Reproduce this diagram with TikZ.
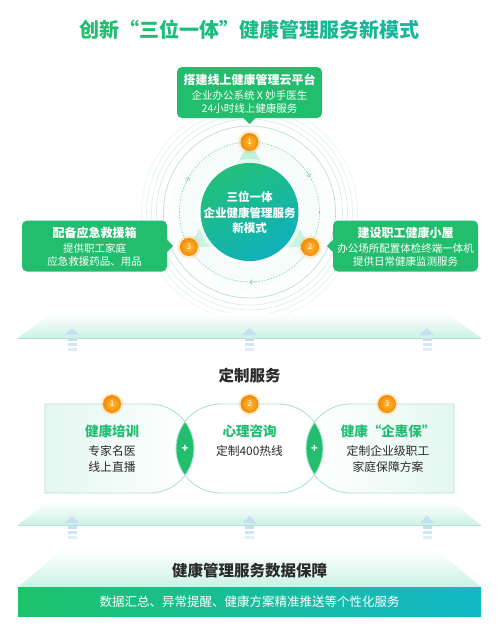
\documentclass[tikz,border=0pt]{standalone}
\usepackage{fontspec}
\setmainfont{Noto Sans CJK SC}
\usetikzlibrary{arrows.meta,calc}
\definecolor{gGreen}{HTML}{1FBF6B}
\definecolor{gTeal}{HTML}{12B4AA}
\definecolor{boxG}{HTML}{23BE6D}
\definecolor{ringC}{HTML}{A6DCD0}
\definecolor{dashC}{HTML}{86CDBD}
\definecolor{orA}{HTML}{FFBA35}
\definecolor{orB}{HTML}{F28A08}
\definecolor{darkT}{HTML}{2B2B2B}
\definecolor{arrB}{HTML}{C4E0F2}
\definecolor{mintA}{HTML}{CBF2E4}
\definecolor{mintB}{HTML}{F6FCFA}
\definecolor{triA}{HTML}{BDEFD8}
\definecolor{triB}{HTML}{CDF3E3}
\definecolor{cirA}{HTML}{22C07A}
\definecolor{cirB}{HTML}{0FB0BC}
\definecolor{bandA}{HTML}{1DC36B}
\definecolor{bandB}{HTML}{12B8C8}
\definecolor{svcLine}{HTML}{AFE1D6}
\definecolor{svcFill}{HTML}{E4F7F1}
\definecolor{svcTitle}{HTML}{20BD72}
\newcommand\tcol[2]{\textcolor{gGreen!#1!gTeal}{#2}}
\begin{document}
\begin{tikzpicture}[x=1pt,y=-1pt,
  callout/.style={fill=boxG,rounded corners=5pt,minimum width=145pt,minimum height=51pt,inner sep=0pt},
  wt/.style={text=white,inner sep=0pt,anchor=base},
  ctitle/.style={wt,font=\bfseries\fontsize{12}{12}\selectfont},
  cline/.style={wt,font=\fontsize{10.5}{10.5}\selectfont},
  numdot/.style={circle,minimum size=18pt,inner sep=0pt,inner color=orA,outer color=orB,text=white,font=\fontsize{8}{8}\selectfont},
  svctitle/.style={text=svcTitle,inner sep=0pt,anchor=base,font=\bfseries\fontsize{13.5}{13.5}\selectfont},
  svcline/.style={text=darkT,inner sep=0pt,anchor=base,font=\fontsize{11.8}{11.8}\selectfont},
  svcedge/.style={draw=svcLine,line width=0.9pt},
  head/.style={text=darkT,inner sep=0pt,anchor=base,font=\bfseries\fontsize{15.5}{15.5}\selectfont},
  chev/.style={dashC,line width=0.6pt,-{Straight Barb[length=2.5pt,width=5pt]}}
]
\useasboundingbox (0,0) rectangle (499,627);
\fill[white] (0,0) rectangle (499,627);

% title
\node[inner sep=0pt,anchor=base,font=\bfseries\fontsize{20}{20}\selectfont] (title) at (249.5,37)
 {\tcol{100}{创}\tcol{95}{新}\tcol{90}{“}\tcol{85}{三}\tcol{80}{位}\tcol{75}{一}\tcol{70}{体}\tcol{65}{”}\tcol{60}{健}\tcol{55}{康}\tcol{50}{管}\tcol{45}{理}\tcol{40}{服}\tcol{35}{务}\tcol{30}{新}\tcol{25}{模}\tcol{20}{式}};

% ring system
\coordinate (c) at (249.5,212);
\begin{scope}
\clip (0,0) rectangle (499,318);
\foreach \r/\o in {108/0.25,103/0.35,98/0.45,93/0.55}
  \draw[ringC,opacity=\o,line width=0.6pt] (c) circle (\r pt);
\shade[inner color=mintA!70,outer color=white] (c) circle (86pt);
\draw[ringC,opacity=0.75,line width=0.8pt] (c) circle (86pt);
\end{scope}
\fill[mintB] (c) circle (70pt);
\draw[dashC,line width=0.6pt,dash pattern=on 1.5pt off 1.5pt] (c) circle (70pt);

\coordinate (v1) at ($(c)+(90:70pt)$);
\coordinate (v2) at ($(c)+(-30:70pt)$);
\coordinate (v3) at ($(c)+(210:70pt)$);
\shade[top color=triA,bottom color=triB] (v1) -- (v2) -- (v3) -- cycle;

\draw[chev] ($(c)+(35:70pt)$) arc[start angle=35,end angle=30,radius=70pt];
\draw[chev] ($(c)+(155:70pt)$) arc[start angle=155,end angle=150,radius=70pt];
\draw[chev] ($(c)+(275:70pt)$) arc[start angle=275,end angle=270,radius=70pt];

\fill[white,opacity=0.55] (c) circle (53pt);
\shade[top color=cirA,bottom color=cirB,shading angle=30] (c) circle (49pt);
\node[wt,font=\bfseries\fontsize{11.5}{11.5}\selectfont] (ct1) at (249.5,201) {三位一体};
\node[wt,font=\bfseries\fontsize{11.5}{11.5}\selectfont] (ct2) at (249.5,217) {企业健康管理服务};
\node[wt,font=\bfseries\fontsize{11.5}{11.5}\selectfont] (ct3) at (249.5,232) {新模式};

\foreach \v/\n in {v1/1,v2/2,v3/3}{
  \fill[orA,opacity=0.25] (\v) circle (11.5pt);
  \node[numdot] (d\n) at (\v) {\n};
}

% top callout
\node[callout] (topbox) at (249.5,92.5) {};
\fill[boxG] ([xshift=-6pt]topbox.south) -- ([yshift=-6pt]topbox.south) -- ([xshift=6pt]topbox.south) -- cycle;
\node[ctitle] (tb1) at (249.5,84.5) {搭建线上健康管理云平台};
\node[cline] (tb2) at (249.5,99) {企业办公系统 X 妙手医生};
\node[cline] (tb3) at (249.5,112) {24小时线上健康服务};

% left callout
\node[callout] (lbox) at (94.5,246) {};
\fill[boxG] ([yshift=6pt]lbox.east) -- ([xshift=6pt]lbox.east) -- ([yshift=-6pt]lbox.east) -- cycle;
\node[ctitle] (lb1) at (94.5,237.5) {配备应急救援箱};
\node[cline] (lb2) at (94.5,252) {提供职工家庭};
\node[cline] (lb3) at (94.5,265) {应急救援药品、用品};

% right callout
\node[callout] (rbox) at (405.5,246) {};
\fill[boxG] ([yshift=6pt]rbox.west) -- ([xshift=-6pt]rbox.west) -- ([yshift=-6pt]rbox.west) -- cycle;
\node[ctitle] (rb1) at (405.5,237.5) {建设职工健康小屋};
\node[cline] (rb2) at (405.5,252) {办公场所配置体检终端一体机};
\node[cline] (rb3) at (405.5,265) {提供日常健康监测服务};

% plane 1
\shade[top color=white,bottom color=mintA] (52,313) -- (447,313) -- (481,338) -- (18,338) -- cycle;
\draw[svcLine,line width=0.7pt] (18,338) -- (481,338);
\foreach \x in {72,249.5,427}{
  \fill[arrB] (\x,328) -- (\x+7.5,335) -- (\x-7.5,335) -- cycle;
  \fill[arrB] (\x-4.5,338) rectangle (\x+4.5,340.5);
  \fill[arrB,opacity=0.8] (\x-4.5,343) rectangle (\x+4.5,345.5);
  \fill[arrB,opacity=0.55] (\x-4.5,348) rectangle (\x+4.5,350.5);
}

\node[head] (svchead) at (249.5,381) {定制服务};

% service shapes
\shade[left color=svcFill,right color=white] (45,404) -- (149.5,404) arc[start angle=90,end angle=-90,radius=44.5pt] -- (45,493) -- cycle;
\fill[white] (220.5,404) -- (278.5,404) arc[start angle=90,end angle=-90,radius=44.5pt] -- (220.5,493) arc[start angle=270,end angle=90,radius=44.5pt] -- cycle;
\shade[left color=white,right color=svcFill] (454,404) -- (350.5,404) arc[start angle=90,end angle=270,radius=44.5pt] -- (454,493) -- cycle;
\begin{scope}
\clip (149.5,448.5) circle (44.5pt);
\fill[boxG] (220.5,448.5) circle (44.5pt);
\end{scope}
\begin{scope}
\clip (278.5,448.5) circle (44.5pt);
\fill[boxG] (350.5,448.5) circle (44.5pt);
\end{scope}
\path[svcedge] (45,404) -- (149.5,404) arc[start angle=90,end angle=-90,radius=44.5pt] -- (45,493) -- cycle;
\path[svcedge] (220.5,404) -- (278.5,404) arc[start angle=90,end angle=-90,radius=44.5pt] -- (220.5,493) arc[start angle=270,end angle=90,radius=44.5pt] -- cycle;
\path[svcedge] (454,404) -- (350.5,404) arc[start angle=90,end angle=270,radius=44.5pt] -- (454,493) -- cycle;
\node[text=white,font=\bfseries\fontsize{11}{11}\selectfont,inner sep=0pt] (plus1) at (185,448.5) {+};
\node[text=white,font=\bfseries\fontsize{11}{11}\selectfont,inner sep=0pt] (plus2) at (314.5,448.5) {+};

\foreach \x/\n in {112/1,249.5/2,387/3}{
  \fill[orA,opacity=0.25] (\x,404) circle (11pt);
  \node[numdot] (s\n) at (\x,404) {\n};
}
\node[svctitle] (st1) at (112,436) {健康培训};
\node[svcline] (sl1a) at (112,455.5) {专家名医};
\node[svcline] (sl1b) at (112,471.5) {线上直播};
\node[svctitle] (st2) at (249.5,436) {心理咨询};
\node[svcline] (sl2a) at (249.5,455.5) {定制400热线};
\node[svctitle] (st3) at (388,436) {健康“企惠保”};
\node[svcline] (sl3a) at (388,455.5) {定制企业级职工};
\node[svcline] (sl3b) at (388,471.5) {家庭保障方案};

% plane 2
\shade[top color=white,bottom color=mintA] (47,502) -- (452,502) -- (481,525) -- (18,525) -- cycle;
\draw[svcLine,line width=0.7pt] (18,525) -- (481,525);
\foreach \x in {72,249.5,427}{
  \fill[arrB] (\x,516) -- (\x+7.5,523) -- (\x-7.5,523) -- cycle;
  \fill[arrB] (\x-4.5,526) rectangle (\x+4.5,528.5);
  \fill[arrB,opacity=0.8] (\x-4.5,531) rectangle (\x+4.5,533.5);
  \fill[arrB,opacity=0.55] (\x-4.5,536) rectangle (\x+4.5,538.5);
}

% plane 3 and band
\shade[top color=white,bottom color=mintA] (62,550) -- (437,550) -- (481,587) -- (18,587) -- cycle;
\node[head] (datahead) at (249.5,576) {健康管理服务数据保障};
\shade[left color=bandA,right color=bandB] (18,587) rectangle (481,616);
\node[wt,font=\fontsize{12.5}{12.5}\selectfont] (band) at (249.5,606) {数据汇总、异常提醒、健康方案精准推送等个性化服务};
\end{tikzpicture}
\end{document}
